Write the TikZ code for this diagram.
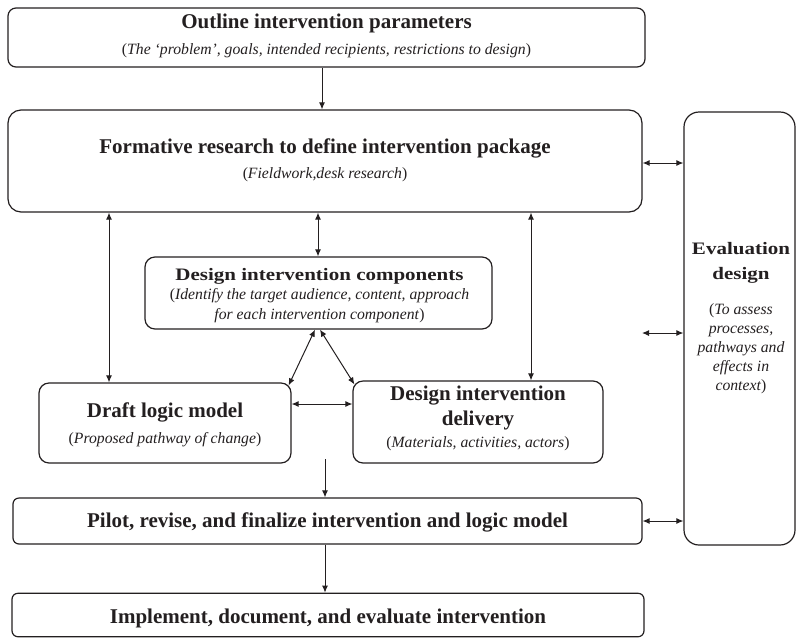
\documentclass[tikz,border=0pt]{standalone}
\usepackage{fontspec}
\setmainfont{Liberation Serif}
\newfontfamily\wideserif[FakeStretch=1.2]{Liberation Serif}
\usetikzlibrary{arrows.meta}
\definecolor{ink}{HTML}{231F20}
\newcommand{\ttlfont}{\bfseries\fontsize{21}{25}\selectfont}
\newcommand{\wttlfont}{\wideserif\bfseries\fontsize{17.5}{21}\selectfont}
\newcommand{\stxfont}{\fontsize{15.7}{19}\selectfont}
\begin{document}
\begin{tikzpicture}[x=1pt,y=-1pt,
  box/.style={draw=ink, line width=1.2pt, inner sep=0pt},
  tl/.style={anchor=base, inner sep=0pt, text=ink, font=\ttlfont},
  wtl/.style={anchor=base, inner sep=0pt, text=ink, font=\wttlfont},
  st/.style={anchor=base, inner sep=0pt, text=ink, font=\stxfont},
  dbl/.style={draw=ink, line width=1pt, {Latex[length=7pt,width=6pt]}-{Latex[length=7pt,width=6pt]}},
  sgl/.style={draw=ink, line width=1pt, -{Latex[length=7pt,width=6pt]}}]
\useasboundingbox (0,0) rectangle (797,638);

% boxes
\node[box, rounded corners=8pt, minimum width=637pt, minimum height=59pt] (outline) at (326.5,37.5) {};
\node[box, rounded corners=13pt, minimum width=634pt, minimum height=102pt] (formative) at (325,161) {};
\node[box, rounded corners=15pt, minimum width=111pt, minimum height=433pt] (eval) at (739.5,328.5) {};
\node[box, rounded corners=10pt, minimum width=347pt, minimum height=72pt] (comp) at (318.5,293) {};
\node[box, rounded corners=10pt, minimum width=252pt, minimum height=80pt] (draft) at (165,423) {};
\node[box, rounded corners=10pt, minimum width=250pt, minimum height=82pt] (delivery) at (478,422) {};
\node[box, rounded corners=6pt, minimum width=629pt, minimum height=46pt] (pilot) at (327.5,521) {};
\node[box, rounded corners=6pt, minimum width=632pt, minimum height=43.5pt] (implement) at (328,615) {};

% texts
\node[tl] (outlineT) at (326.5,28) {Outline intervention parameters};
\node[st] (outlineS) at (326.5,54) {(\textit{The `problem', goals, intended recipients, restrictions to design})};
\node[tl] (formT) at (325,153) {Formative research to define intervention package};
\node[st] (formS) at (325,178) {(\textit{Fieldwork,desk research})};
\node[wtl] (compT) at (319.5,280) {Design intervention components};
\node[st] (compS1) at (319.5,299) {(\textit{Identify the target audience, content, approach}};
\node[st] (compS2) at (319.5,319) {\textit{for each intervention component})};
\node[tl] (draftT) at (165,417) {Draft logic model};
\node[st] (draftS) at (165,443) {(\textit{Proposed pathway of change})};
\node[tl] (delT1) at (478,400) {Design intervention};
\node[tl] (delT2) at (478,425) {delivery};
\node[st] (delS) at (478,447) {(\textit{Materials, activities, actors})};
\node[tl] (pilotT) at (327.5,527) {Pilot, revise, and finalize intervention and logic model};
\node[tl] (implT) at (328,623) {Implement, document, and evaluate intervention};
\node[wtl] (evalT1) at (741,254) {Evaluation};
\node[wtl] (evalT2) at (741,279) {design};
\node[st] (evalS1) at (741,314) {(\textit{To assess}};
\node[st] (evalS2) at (741,333) {\textit{processes,}};
\node[st] (evalS3) at (741,352) {\textit{pathways and}};
\node[st] (evalS4) at (741,371) {\textit{effects in}};
\node[st] (evalS5) at (741,390) {\textit{context})};

% helper coordinates
\coordinate (cx) at (322,0);
\coordinate (cy) at (325,0);
\coordinate (xa) at (109,0);
\coordinate (xb) at (318,0);
\coordinate (xc) at (531,0);
\coordinate (ye1) at (0,163);
\coordinate (yd) at (0,404);
\coordinate (free1) at (642,333);
\coordinate (free2) at (325,459);

% connectors
\draw[sgl] (outline.south -| cx) -- (formative.north -| cx);
\draw[dbl] (formative.east |- ye1) -- (eval.west |- ye1);
\draw[dbl] (free1) -- (eval.west |- free1);
\draw[dbl] (pilot.east) -- (eval.west |- pilot.east);
\draw[dbl] (formative.south -| xa) -- (draft.north -| xa);
\draw[dbl] (formative.south -| xb) -- (comp.north -| xb);
\draw[dbl] (formative.south -| xc) -- (delivery.north -| xc);
\draw[dbl] ([xshift=-3.5pt]comp.south) -- ([shift={(-3,3)}]draft.north east);
\draw[dbl] ([xshift=1.5pt]comp.south) -- ([shift={(2,4)}]delivery.north west);
\draw[dbl] (draft.east |- yd) -- (delivery.west |- yd);
\draw[sgl] (free2) -- (pilot.north -| free2);
\draw[sgl] (pilot.south -| cy) -- (implement.north -| cy);
\end{tikzpicture}
\end{document}
